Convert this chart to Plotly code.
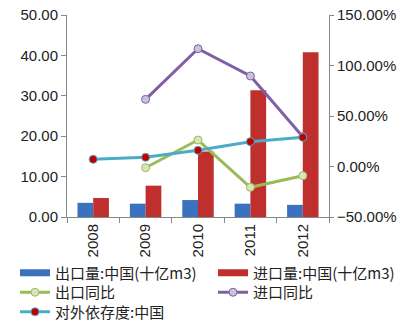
import plotly.graph_objects as go

years = ["2008", "2009", "2010", "2011", "2012"]
export_vol = [3.5, 3.3, 4.2, 3.3, 3.0]
import_vol = [4.7, 7.75, 16.2, 31.4, 40.8]
export_yoy = [None, -1.2, 26.2, -20.6, -9.1]
import_yoy = [None, 66.5, 116.6, 89.6, 29.5]
dependency = [7.1, 9.1, 16.0, 24.6, 28.9]

FONT = "Liberation Sans, Arial, Noto Sans CJK SC, sans-serif"
LFONT = dict(size=15, family="Noto Sans CJK SC, Liberation Sans, sans-serif", color="#222222")
BLUE = "#3A72C0"
RED = "#BE2F2E"

fig = go.Figure()
fig.add_trace(go.Bar(x=years, y=export_vol, name="出口量:中国(十亿m3)",
                     marker=dict(color=BLUE, line=dict(width=0)), showlegend=False))
fig.add_trace(go.Bar(x=years, y=import_vol, name="进口量:中国(十亿m3)",
                     marker=dict(color=RED, line=dict(width=0)), showlegend=False))
# legend stand-ins for the bars (wide rectangles as in the original)
fig.add_trace(go.Scatter(x=[None], y=[None], mode="lines", name="出口量:中国(十亿m3)",
                         line=dict(color=BLUE, width=7), legend="legend"))
fig.add_trace(go.Scatter(x=[None], y=[None], mode="lines", name="进口量:中国(十亿m3)",
                         line=dict(color=RED, width=7), legend="legend2"))
fig.add_trace(go.Scatter(x=years, y=export_yoy, name="出口同比", yaxis="y2",
                         mode="lines+markers", legend="legend3",
                         line=dict(color="#9BBB59", width=3),
                         marker=dict(size=8, color="#D7E4BD", line=dict(color="#9BBB59", width=1))))
fig.add_trace(go.Scatter(x=years, y=import_yoy, name="进口同比", yaxis="y2",
                         mode="lines+markers", legend="legend4",
                         line=dict(color="#7F5FA5", width=3),
                         marker=dict(size=8, color="#CCC1DA", line=dict(color="#7F5FA5", width=1))))
fig.add_trace(go.Scatter(x=years, y=dependency, name="对外依存度:中国", yaxis="y2",
                         mode="lines+markers", legend="legend5",
                         line=dict(color="#4BACC6", width=3),
                         marker=dict(size=8, color="#C00000", line=dict(color="#4BACC6", width=1))))


def leg(xpx, ypx):
    return dict(orientation="v", xref="container", yref="container",
                x=xpx / 408, xanchor="left", y=1 - ypx / 322, yanchor="middle",
                font=LFONT, itemwidth=30, bgcolor="rgba(0,0,0,0)", borderwidth=0)


fig.update_layout(
    width=408, height=322,
    margin=dict(l=67, r=79, t=15, b=105, autoexpand=False),
    paper_bgcolor="white", plot_bgcolor="white",
    font=dict(family=FONT, size=15, color="#222222"),
    barmode="group", bargap=0.4, bargroupgap=0,
    showlegend=True,
    legend=leg(15, 273), legend2=leg(213, 273),
    legend3=leg(15, 292.5), legend4=leg(213, 292.5),
    legend5=leg(15, 312),
    xaxis=dict(type="category", tickangle=-90, showline=True, linecolor="#888888",
               ticks="outside", tickson="boundaries", ticklen=5, tickcolor="#888888",
               showgrid=False, tickfont=dict(size=15, color="#222222")),
    yaxis=dict(range=[0, 50], dtick=10, tickformat=".2f", showline=True, linecolor="#888888",
               ticks="outside", ticklen=5, tickcolor="#888888", showgrid=False, zeroline=False,
               tickfont=dict(size=15, color="#222222")),
    yaxis2=dict(range=[-50, 150], dtick=50, tickformat=".2f", ticksuffix="%", overlaying="y",
                side="right", showline=True, linecolor="#888888", ticks="outside", ticklen=4,
                tickcolor="#888888", showgrid=False, zeroline=False,
                tickfont=dict(size=15, color="#222222")),
)

fig.write_html("out.html")
